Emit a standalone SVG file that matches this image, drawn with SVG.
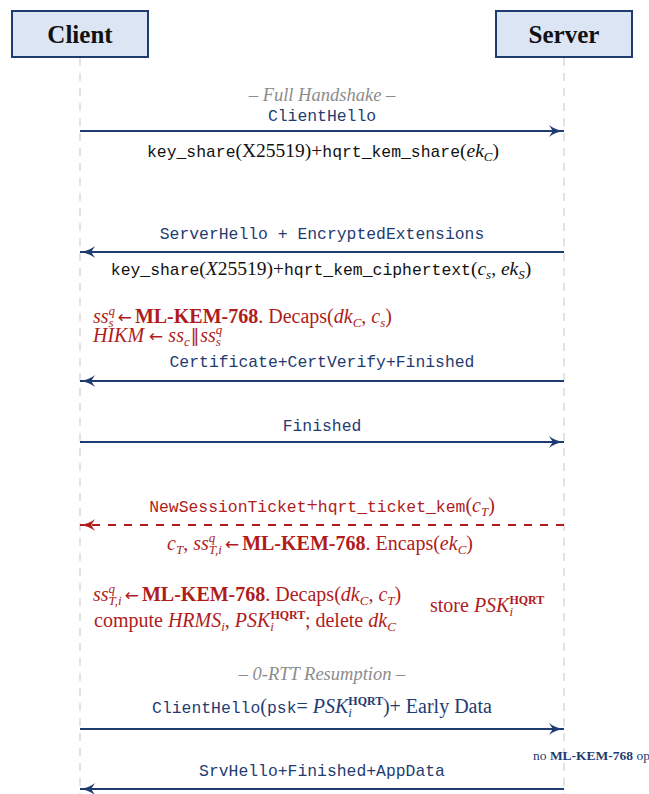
<svg xmlns="http://www.w3.org/2000/svg" width="649" height="794" viewBox="0 0 649 794">
<defs>
<style>
text{font-family:"Liberation Serif",serif;font-size:20px}
.m{font-family:"Liberation Mono",monospace;font-size:16.4px}
.blue{fill:#1f3c72}
.red{fill:#b01c1c}
.blk{fill:#111}
.gray{fill:#8c8c8c;font-style:italic;font-size:18.5px}
.i{font-style:italic}
.b{font-weight:bold}
.s{font-size:13px}
.xs{font-size:12px;font-weight:bold}
.ar{font-family:"DejaVu Sans",sans-serif;font-size:17px}
.c{text-anchor:middle}
.box{fill:#dbe5f4;stroke:#1f3c72;stroke-width:2}
.life{stroke:#d9d9d9;stroke-width:1.5;stroke-dasharray:8 7;fill:none}
.arr{stroke:#1f3c72;stroke-width:2;fill:none}
.arr-r{stroke:#b01c1c;stroke-width:2;fill:none;stroke-dasharray:8 8}
</style>
<marker id="ah" markerUnits="userSpaceOnUse" markerWidth="16" markerHeight="13" refX="15" refY="6.5" orient="auto" overflow="visible">
<path d="M0,0.5 C4,3.8 9.5,5.7 15,6.5 C9.5,7.3 4,9.2 0,12.5 L3.8,6.5 Z" fill="#1f3c72"/>
</marker>
<marker id="ahr" markerUnits="userSpaceOnUse" markerWidth="16" markerHeight="13" refX="15" refY="6.5" orient="auto" overflow="visible">
<path d="M0,0.5 C4,3.8 9.5,5.7 15,6.5 C9.5,7.3 4,9.2 0,12.5 L3.8,6.5 Z" fill="#b01c1c"/>
</marker>
</defs>
<rect width="649" height="794" fill="#fff"/>

<g id="lifelines">
<line class="life" x1="80" y1="58" x2="80" y2="794"/>
<line class="life" x1="564" y1="58" x2="564" y2="794"/>
</g>

<g id="client">
<rect class="box" x="12" y="11" width="136" height="46"/>
<text x="80" y="43" class="c b blk" style="font-size:25px">Client</text>
</g>
<g id="server">
<rect class="box" x="496" y="11" width="136" height="46"/>
<text x="564" y="43" class="c b blk" style="font-size:25px">Server</text>
</g>

<g id="connectors">
<line class="arr" x1="80" y1="131" x2="564" y2="131" marker-end="url(#ah)"/>
<line class="arr" x1="564" y1="252" x2="80" y2="252" marker-end="url(#ah)"/>
<line class="arr" x1="564" y1="381" x2="80" y2="381" marker-end="url(#ah)"/>
<line class="arr" x1="80" y1="442" x2="564" y2="442" marker-end="url(#ah)"/>
<line class="arr-r" x1="564" y1="525" x2="80" y2="525" marker-end="url(#ahr)"/>
<line class="arr" x1="80" y1="729" x2="564" y2="729" marker-end="url(#ah)"/>
<line class="arr" x1="564" y1="789" x2="80" y2="789" marker-end="url(#ah)"/>
</g>

<g id="full-handshake-label">
<text x="322" y="101" class="c gray">– Full Handshake –</text>
</g>

<g id="msg-clienthello">
<text x="322" y="121" class="c m blue">ClientHello</text>
<text x="323" y="157" class="c blk" style="font-size:19.5px"><tspan class="m">key_share</tspan>(X25519)+<tspan class="m">hqrt_kem_share</tspan>(<tspan class="i">ek</tspan><tspan class="i s" dy="4">C</tspan><tspan dy="-4">)</tspan></text>
</g>

<g id="msg-serverhello">
<text x="322" y="239" class="c m blue">ServerHello + EncryptedExtensions</text>
<text x="321" y="275" class="c blk" style="font-size:19.5px"><tspan class="m">key_share</tspan>(<tspan class="i">X</tspan>25519)+<tspan class="m">hqrt_kem_ciphertext</tspan>(<tspan class="i">c</tspan><tspan class="i s" dy="4">s</tspan><tspan dy="-4">, </tspan><tspan class="i">ek</tspan><tspan class="i s" dy="4">S</tspan><tspan dy="-4">)</tspan></text>
</g>

<g id="client-decaps">
<text x="93" y="323" class="red"><tspan class="i">ss</tspan><tspan class="i s" dy="-8">q</tspan><tspan class="i s" dx="-6.5" dy="12">s</tspan><tspan class="ar" dy="-4" dx="4">←</tspan><tspan class="b" dx="3">ML-KEM-768</tspan>. Decaps(<tspan class="i">dk</tspan><tspan class="i s" dy="4">C</tspan><tspan dy="-4">, </tspan><tspan class="i">c</tspan><tspan class="i s" dy="4">s</tspan><tspan dy="-4">)</tspan></text>
<text x="93" y="342" class="red"><tspan class="i">HIKM</tspan> <tspan class="ar">←</tspan> <tspan class="i">ss</tspan><tspan class="i s" dy="4">c</tspan><tspan class="ar" dy="-4" dx="1">‖</tspan><tspan class="i" dx="1">ss</tspan><tspan class="i s" dy="-8">q</tspan><tspan class="i s" dx="-6.5" dy="12">s</tspan></text>
</g>

<g id="msg-certificate">
<text x="322" y="367" class="c m blue">Certificate+CertVerify+Finished</text>
</g>

<g id="msg-finished">
<text x="322" y="431" class="c m blue">Finished</text>
</g>

<g id="msg-ticket">
<text x="322" y="512" class="c red"><tspan class="m">NewSessionTicket</tspan>+<tspan class="m">hqrt_ticket_kem</tspan>(<tspan class="i">c</tspan><tspan class="i s" dy="4">T</tspan><tspan dy="-4">)</tspan></text>
<text x="320" y="550" class="c red"><tspan class="i">c</tspan><tspan class="i s" dy="4">T</tspan><tspan dy="-4">, </tspan><tspan class="i">ss</tspan><tspan class="i s" dy="-8">q</tspan><tspan class="i s" dx="-6.5" dy="12">T,i</tspan><tspan class="ar" dy="-4" dx="3">←</tspan><tspan class="b" dx="3">ML-KEM-768</tspan>. Encaps(<tspan class="i">ek</tspan><tspan class="i s" dy="4">C</tspan><tspan dy="-4">)</tspan></text>
</g>

<g id="client-ticket-decaps">
<text x="93" y="601" class="red"><tspan class="i">ss</tspan><tspan class="i s" dy="-8">q</tspan><tspan class="i s" dx="-6.5" dy="12">T,i</tspan><tspan class="ar" dy="-4" dx="3">←</tspan><tspan class="b" dx="3">ML-KEM-768</tspan>. Decaps(<tspan class="i">dk</tspan><tspan class="i s" dy="4">C</tspan><tspan dy="-4">, </tspan><tspan class="i">c</tspan><tspan class="i s" dy="4">T</tspan><tspan dy="-4">)</tspan></text>
<text x="94" y="627" class="red">compute <tspan class="i">HRMS</tspan><tspan class="i s" dy="4">i</tspan><tspan dy="-4">, </tspan><tspan class="i">PSK</tspan><tspan class="xs" dy="-8">HQRT</tspan><tspan class="i s" dx="-35" dy="12">i</tspan><tspan dy="-4" dx="31">; delete </tspan><tspan class="i">dk</tspan><tspan class="i s" dy="4">C</tspan></text>
</g>

<g id="server-store">
<text x="430" y="612" class="red">store <tspan class="i">PSK</tspan><tspan class="xs" dy="-8">HQRT</tspan><tspan class="i s" dx="-35" dy="12">i</tspan></text>
</g>

<g id="resumption-label">
<text x="322" y="680" class="c gray">– 0-RTT Resumption –</text>
</g>

<g id="msg-clienthello-psk">
<text x="322" y="713" class="c blue"><tspan class="m">ClientHello</tspan>(<tspan class="m">psk</tspan>= <tspan class="i">PSK</tspan><tspan class="xs" dy="-8">HQRT</tspan><tspan class="i s" dx="-35" dy="12">i</tspan><tspan dy="-4" dx="31">)+ Early Data</tspan></text>
</g>

<g id="server-note">
<text x="533" y="760" class="blue" style="font-size:13.5px">no <tspan class="b">ML-KEM-768</tspan> op</text>
</g>

<g id="msg-srvhello">
<text x="322" y="776" class="c m blue">SrvHello+Finished+AppData</text>
</g>
</svg>
